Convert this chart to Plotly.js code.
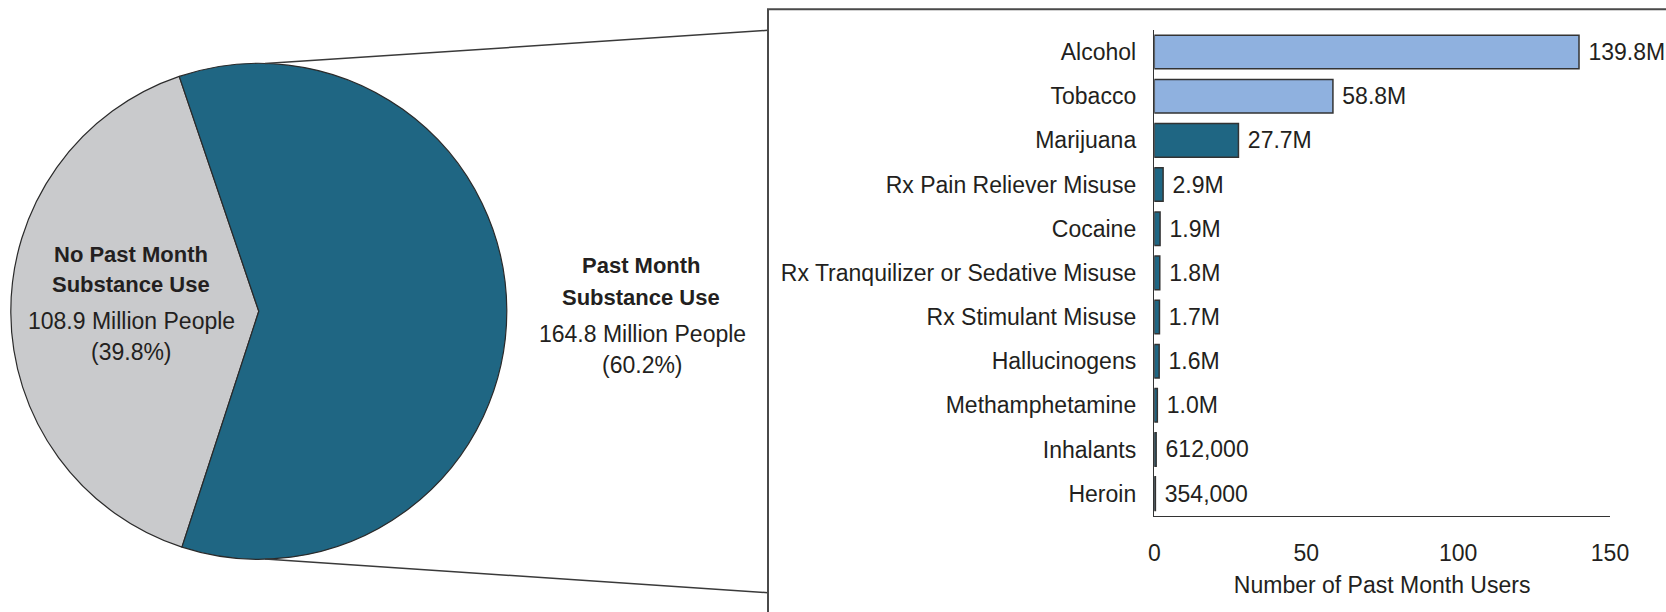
<!DOCTYPE html>
<html>
<head>
<meta charset="utf-8">
<script src="https://cdn.plot.ly/plotly-3.0.1.min.js"></script>
<style>html,body{margin:0;padding:0;background:#fff;}#chart{width:1666px;height:612px;}</style>
</head>
<body>
<div id="chart"></div>
<script>
// ---- data ----
const pieLabels = ["No Past Month Substance Use", "Past Month Substance Use"];
const pieValues = [108.9, 164.8]; // millions of people
const substances = ["Alcohol", "Tobacco", "Marijuana", "Rx Pain Reliever Misuse", "Cocaine",
  "Rx Tranquilizer or Sedative Misuse", "Rx Stimulant Misuse", "Hallucinogens",
  "Methamphetamine", "Inhalants", "Heroin"];
const users = [139.8, 58.8, 27.7, 2.9, 1.9, 1.8, 1.7, 1.6, 1.0, 0.612, 0.354]; // millions
const userLabels = ["139.8M", "58.8M", "27.7M", "2.9M", "1.9M", "1.8M", "1.7M", "1.6M", "1.0M", "612,000", "354,000"];
const xTicks = [0, 50, 100, 150];

// ---- styles ----
const FONT = "'Liberation Sans', Arial, sans-serif";
const FS = 23;
const TXT = "#231f20";
const GREY = "#c9cacc";
const TEAL = "#1f6683";
const LIGHT = "#8fb1df";
const W = 1666, H = 612;
const px = x => x / W;
const py = y => 1 - y / H;

const barColors = substances.map((s, i) => i < 2 ? LIGHT : TEAL);

const pie = {
  type: "pie",
  labels: pieLabels,
  values: pieValues,
  sort: false,
  direction: "counterclockwise",
  rotation: -161.95,
  textinfo: "none",
  hoverinfo: "label+value+percent",
  marker: { colors: [GREY, TEAL], line: { color: "#2a2a2a", width: 1.2 } },
  domain: { x: [px(10.8), px(506.8)], y: [py(559.3), py(63.3)] },
  showlegend: false
};

const bar = {
  type: "bar",
  orientation: "h",
  y: substances,
  x: users,
  text: userLabels,
  texttemplate: " %{text}",
  textposition: "outside",
  constraintext: "none",
  cliponaxis: false,
  textfont: { family: FONT, size: FS, color: TXT },
  marker: { color: barColors, line: { color: "#333", width: 1.5 } },
  hoverinfo: "y+x",
  showlegend: false
};

const lineStyle = { color: "#3a3a3a", width: 1.5 };

const annText = (t, x, y, bold) => ({
  text: bold ? "<b>" + t + "</b>" : t,
  x: px(x), y: py(y), xref: "paper", yref: "paper",
  xanchor: "center", yanchor: "middle", showarrow: false,
  font: { family: FONT, size: bold ? 22 : FS, color: TXT }
});

const layout = {
  width: W, height: H,
  margin: { l: 0, r: 0, t: 0, b: 0 },
  paper_bgcolor: "#fff",
  plot_bgcolor: "rgba(0,0,0,0)",
  font: { family: FONT, size: FS, color: TXT },
  bargap: 0.24,
  xaxis: {
    domain: [px(1154.3), px(1610)],
    range: [0, 150],
    tickvals: xTicks,
    ticks: "",
    showgrid: false,
    zeroline: false,
    showline: true,
    linecolor: "#333",
    linewidth: 1.5,
    tickfont: { family: FONT, size: FS, color: TXT },
    ticklabelstandoff: 16,
    title: { text: "Number of Past Month Users", font: { family: FONT, size: FS, color: TXT }, standoff: 12 },
    automargin: false
  },
  yaxis: {
    domain: [py(515.7), py(30)],
    type: "category",
    categoryorder: "array",
    categoryarray: substances.slice().reverse(),
    ticks: "",
    showgrid: false,
    zeroline: false,
    showline: true,
    linecolor: "#333",
    linewidth: 1.5,
    tickfont: { family: FONT, size: FS, color: TXT },
    ticklabelstandoff: 12,
    automargin: false
  },
  shapes: [
    { type: "line", xref: "paper", yref: "paper", x0: px(265), y0: py(63.6), x1: px(768), y1: py(30.3), line: lineStyle },
    { type: "line", xref: "paper", yref: "paper", x0: px(265), y0: py(559), x1: px(768), y1: py(592.7), line: lineStyle },
    { type: "rect", xref: "paper", yref: "paper", x0: px(768), y0: py(9.3), x1: 1.05, y1: -0.05, line: { color: "#4a4a4a", width: 2 } }
  ],
  annotations: [
    annText("No Past Month", 131, 254, true),
    annText("Substance Use", 131, 284, true),
    annText("108.9 Million People", 131, 321, false),
    annText("(39.8%)", 131, 352, false),
    annText("Past Month", 641, 265, true),
    annText("Substance Use", 641, 297, true),
    annText("164.8 Million People", 642, 334, false),
    annText("(60.2%)", 642, 365, false)
  ]
};

Plotly.newPlot("chart", [pie, bar], layout, { displayModeBar: false, staticPlot: true });
</script>
</body>
</html>
